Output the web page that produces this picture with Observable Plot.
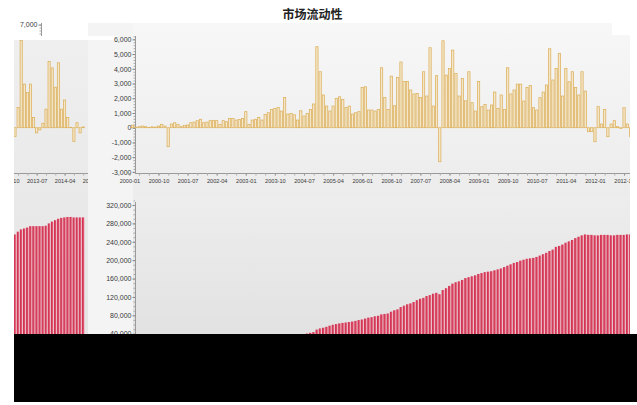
<!DOCTYPE html>
<html><head><meta charset="utf-8">
<script src="https://cdn.jsdelivr.net/npm/d3@7"></script>
<script src="https://cdn.jsdelivr.net/npm/@observablehq/plot@0.6"></script>
<style>
body{margin:0;background:#fff;width:637px;height:405px;position:relative;overflow:hidden;font-family:"Liberation Sans",Arial,sans-serif;}
.abs{position:absolute;}
.clip{position:absolute;overflow:hidden;}
</style></head><body>
<div class="abs" style="left:0;width:625px;top:5px;line-height:15px;text-align:center;font:bold 12px 'Noto Sans CJK SC';color:#222">市场流动性</div>
<div class="abs" style="left:88px;top:23px;width:45px;height:311px;background:#f4f4f4"></div>
<div class="abs" style="left:133px;top:23px;width:497px;height:172px;background:linear-gradient(#f7f7f7,#ececec)"></div>
<div class="abs" style="left:133px;top:195px;width:497px;height:139px;background:linear-gradient(#ededed,#e2e2e2)"></div>
<div class="abs" style="left:612px;top:23px;width:25px;height:12px;background:#fff"></div>
<div id="leftAxis" class="clip" style="left:14px;top:15px;width:74px;height:180px"></div>
<div class="abs" style="left:14px;top:37px;width:74px;height:297px;background:linear-gradient(#efefef,#e4e4e4)"></div>
<div class="abs" style="left:14px;top:36px;width:103px;height:4px;background:#fff"></div>
<div id="mainTop" class="clip" style="left:88px;top:23px;width:542px;height:172px"></div>
<div id="leftTop" class="clip" style="left:14px;top:23px;width:74px;height:172px"></div>
<div id="mainBottom" class="clip" style="left:88px;top:190px;width:542px;height:200px"></div>
<div id="leftBottom" class="clip" style="left:14px;top:190px;width:74px;height:200px"></div>
<div class="abs" style="left:14px;top:334px;width:623px;height:68px;background:#000"></div>
<script>
// ---- data (monthly, first value = 2000-02) ----
const firstDataMonth = "2000-02";
const flow2000to2006 = [180, 30, 70, 110, 70, 20, 60, 40, 110, 230,
  110, -1290, 250, 340, 230, 70, 160, 180, 340, 380,
  480, 570, 340, 380, 480, 500, 480, 230, 480, 410,
  630, 630, 520, 560, 630, 1090, 230, 520, 570, 700,
  520, 900, 1020, 1240, 1310, 1380, 1130, 2060, 930, 970,
  880, 520, 1150, 790, 970, 1240, 1610, 5500, 3800, 2220,
  1470, 1130, 1470, 1990, 2100, 1920, 1380, 1470, 930, 1020,
  1090, 2740, 2780, 1200];
const flow2006to2012 = [1200, 1130, 1240, 4070, 2060, 1240, 3500, 1490, 3420, 4460,
  3140, 3140, 2560, 2290, 2330, 2060, 3800, 2150, 5430, 1470,
  3530, -2310, 5900, 3570, 4030, 5270, 3690, 2150, 3350, 1830,
  3800, 1700, 1130, 3140, 1430, 1580, 1200, 1540, 2420, 1310,
  2220, 1240, 4070, 2290, 2560, 2960, 2960, 1810, 2740, 2870,
  1360, 1200, 2040, 2420, 2900, 5360, 3240, 4030, 5050, 2150,
  4030, 3120, 3800, 2740, 2220, 3800, 2490, -270, -270, -950,
  1430, 250, 1240, -610, 250, 480, 70, -50, 1360, 250, -600];
const flow2013to2014 = [1380, 5930, 2960, 2400, 2960, 690, -350, -150, 300, 1260,
  4500, 4060, 2750, 4410, 1260, 1880, 690, 20, -940, 340, -350, 50];

const stock2000to2004 = [300, 400, 500, 650, 750, 800, 900, 1000, 1250, 1400,
  1500, 200, 500, 900, 1200, 1300, 1500, 1700, 2100, 2500,
  3100, 3700, 4100, 4500, 5100, 5600, 6200, 6500, 7100, 7600,
  8300, 9000, 9600, 10300, 11000, 12300, 12600, 13300, 14000, 14900,
  15900, 17100, 18500, 20000, 21600, 23300, 24700, 26800, 28200, 29600,
  31000, 32600, 34400, 37000];
const stock2004to2012 = [40500, 42000, 43500, 49000, 51500, 53000,
  55000, 57500, 59500, 61000, 62500, 63500, 64500, 65500, 66500, 68000,
  69800, 71000, 73000, 75000, 76000, 78000, 79000, 82000, 83000, 84000,
  88000, 91000, 93000, 98000, 101000, 104000, 106000, 109000, 113000, 116000,
  118000, 122000, 124000, 127000, 129000, 126000, 135000, 139000, 144000, 149000,
  152000, 154000, 157000, 161000, 163000, 165000, 167000, 170000, 172000, 174000,
  175000, 176000, 178000, 180000, 182000, 185000, 188000, 191000, 194000, 196000,
  199000, 201000, 203000, 204000, 205000, 207000, 210000, 213000, 216000, 220000,
  223000, 229000, 231000, 234000, 238000, 241000, 244000, 248000, 251000, 254000,
  256000, 255000, 255000, 254000, 254000, 255000, 255000, 255000, 254000, 254000,
  255000, 255000, 255000, 256000, 256000];
const stock2013to2014 = [262000, 267000, 269000, 271000, 274000, 274000, 274000, 274000, 274000, 275000,
  280000, 284000, 287000, 290000, 292000, 293000, 294000, 294000, 293000, 293000, 293000, 293000];

const tickLabels = ["2000-01","2000-10","2001-07","2002-04","2003-01","2003-10","2004-07","2005-04",
  "2006-01","2006-10","2007-07","2008-04","2009-01","2009-10","2010-07","2011-04","2012-01",
  "2012-10","2013-07","2014-04","2015-01"];
const flowTicks = [-3000,-2000,-1000,0,1000,2000,3000,4000,5000,6000];
const stockTicks = [40000,80000,120000,160000,200000,240000,280000,320000];

// ---- build tables ----
const fmtM = d3.utcFormat("%Y-%m");
const allMonths = d3.utcMonths(new Date(Date.UTC(2000,0,1)), new Date(Date.UTC(2015,3,1))).map(fmtM);
const off = allMonths.indexOf(firstDataMonth);
const flow = [...flow2000to2006, ...flow2006to2012, ...flow2013to2014];
const stock = [...stock2000to2004, ...stock2004to2012, ...stock2013to2014];
const flowData = flow.map((v,i)=>({m:i+off, month:allMonths[i+off], value:v}));
const stockData = stock.map((v,i)=>({m:i+off, month:allMonths[i+off], value:v}));

const mainMonths = allMonths.slice(0,156);
const leftMonths = allMonths.slice(150,182);
const quarterly = ms => ms.filter(d => ["01","04","07","10"].includes(d.slice(5)));
const labelsIn = ms => tickLabels.filter(d => ms.includes(d));
function bandRange(c0, s, n, p){ const a = c0 - s*(1-p)/2; return [a, a + s*(n-p)]; }
const fmtN = d => d.toLocaleString("en-US");
const style = {background:"transparent", overflow:"visible", fontFamily:"Liberation Sans, Arial, sans-serif", color:"#3a3a3a"};
const yFlow = {domain:[-3000,7000], range:[148.9,1.6], label:null};
const yFlowStub = {domain:[-3000,7000], range:[156.9,9.6], label:null};
const yStock = {domain:[0,320000], range:[162.1,15], label:null};
const goldBar = {fill:"#f3e6ca", stroke:"#ddb05a", strokeWidth:0.75};
const redBar = {fill:"url(#redgrad)"};
const minor = {tickFormat:null, fill:"none", label:null, stroke:"#aaa", tickSize:1.5};
function addGrad(svg){
  const ns="http://www.w3.org/2000/svg";
  const defs=document.createElementNS(ns,"defs");
  defs.innerHTML='<linearGradient id="redgrad" x1="0" x2="1" y1="0" y2="0"><stop offset="0" stop-color="#cc2a4a"/><stop offset="0.55" stop-color="#da4562"/><stop offset="1" stop-color="#f2a9b8"/></linearGradient>';
  svg.insertBefore(defs, svg.firstChild);
  return svg;
}
const xMain = p => ({type:"band", domain:mainMonths, range:bandRange(41.4,3.233,156,p), paddingInner:p, paddingOuter:0, round:false, label:null});
const xLeft = p => ({type:"band", domain:leftMonths, range:bandRange(-14.5,3.1,32,p), paddingInner:p, paddingOuter:0, round:false, label:null});

// main top: flows
document.getElementById("mainTop").append(Plot.plot({
  width:542, height:172, marginLeft:47, marginTop:13, marginBottom:22, marginRight:0, style,
  x:xMain(0.3), y:yFlow,
  marks:[
    Plot.frame({anchor:"bottom", stroke:"#9a9a9a"}),
    Plot.frame({anchor:"left", stroke:"#9a9a9a"}),
    Plot.axisY(d3.range(-3000,6201,200), minor),
    Plot.axisY(flowTicks, {tickSize:2.5, tickPadding:1.5, fontSize:7, tickFormat:fmtN, stroke:"#888", label:null}),
    Plot.axisX(quarterly(mainMonths), {...minor, tickSize:2.5}),
    Plot.axisX(labelsIn(mainMonths), {tickSize:2.5, tickPadding:3.5, fontSize:5.6, stroke:"#999", label:null}),
    Plot.barY(flowData.filter(d=>d.m<=155), {x:"month", y:"value", ...goldBar})
  ]
}));

// left panel axis stub (7,000)
document.getElementById("leftAxis").append(Plot.plot({
  width:74, height:180, marginLeft:27, marginTop:8, marginBottom:22, marginRight:0, style,
  x:{...xLeft(0.3), axis:null}, y:yFlowStub,
  marks:[
    Plot.frame({anchor:"left", stroke:"#9a9a9a"}),
    Plot.axisY(d3.range(6000,7001,200), minor),
    Plot.axisY([7000], {tickSize:2.5, tickPadding:1.5, fontSize:7, tickFormat:fmtN, stroke:"#888", label:null})
  ]
}));

// left panel: later flows
document.getElementById("leftTop").append(Plot.plot({
  width:74, height:172, marginLeft:0, marginTop:13, marginBottom:22, marginRight:0, style,
  x:xLeft(0.3), y:{...yFlow, axis:null},
  marks:[
    Plot.frame({anchor:"bottom", stroke:"#9a9a9a"}),
    Plot.axisX(quarterly(leftMonths), {...minor, tickSize:2.5}),
    Plot.axisX(labelsIn(leftMonths), {tickSize:2.5, tickPadding:3.5, fontSize:5.6, stroke:"#999", label:null}),
    Plot.barY(flowData.filter(d=>d.m>=155), {x:"month", y:"value", ...goldBar})
  ]
}));

// main bottom: stock
document.getElementById("mainBottom").append(addGrad(Plot.plot({
  width:542, height:200, marginLeft:47, marginTop:12, marginBottom:38, marginRight:0, style,
  x:{...xMain(0.15), axis:null}, y:yStock,
  marks:[
    Plot.frame({anchor:"left", stroke:"#9a9a9a"}),
    Plot.axisY(d3.range(0,330001,10000), minor),
    Plot.axisY(stockTicks, {tickSize:2.5, tickPadding:1.5, fontSize:7, tickFormat:fmtN, stroke:"#888", label:null}),
    Plot.barY(stockData.filter(d=>d.m<=155), {x:"month", y:"value", ...redBar})
  ]
})));

// left bottom: later stock
document.getElementById("leftBottom").append(addGrad(Plot.plot({
  width:74, height:200, marginLeft:0, marginTop:12, marginBottom:38, marginRight:0, style,
  x:{...xLeft(0.15), axis:null}, y:{...yStock, axis:null},
  marks:[
    Plot.barY(stockData.filter(d=>d.m>=155), {x:"month", y:"value", ...redBar})
  ]
})));
</script>
</body></html>
